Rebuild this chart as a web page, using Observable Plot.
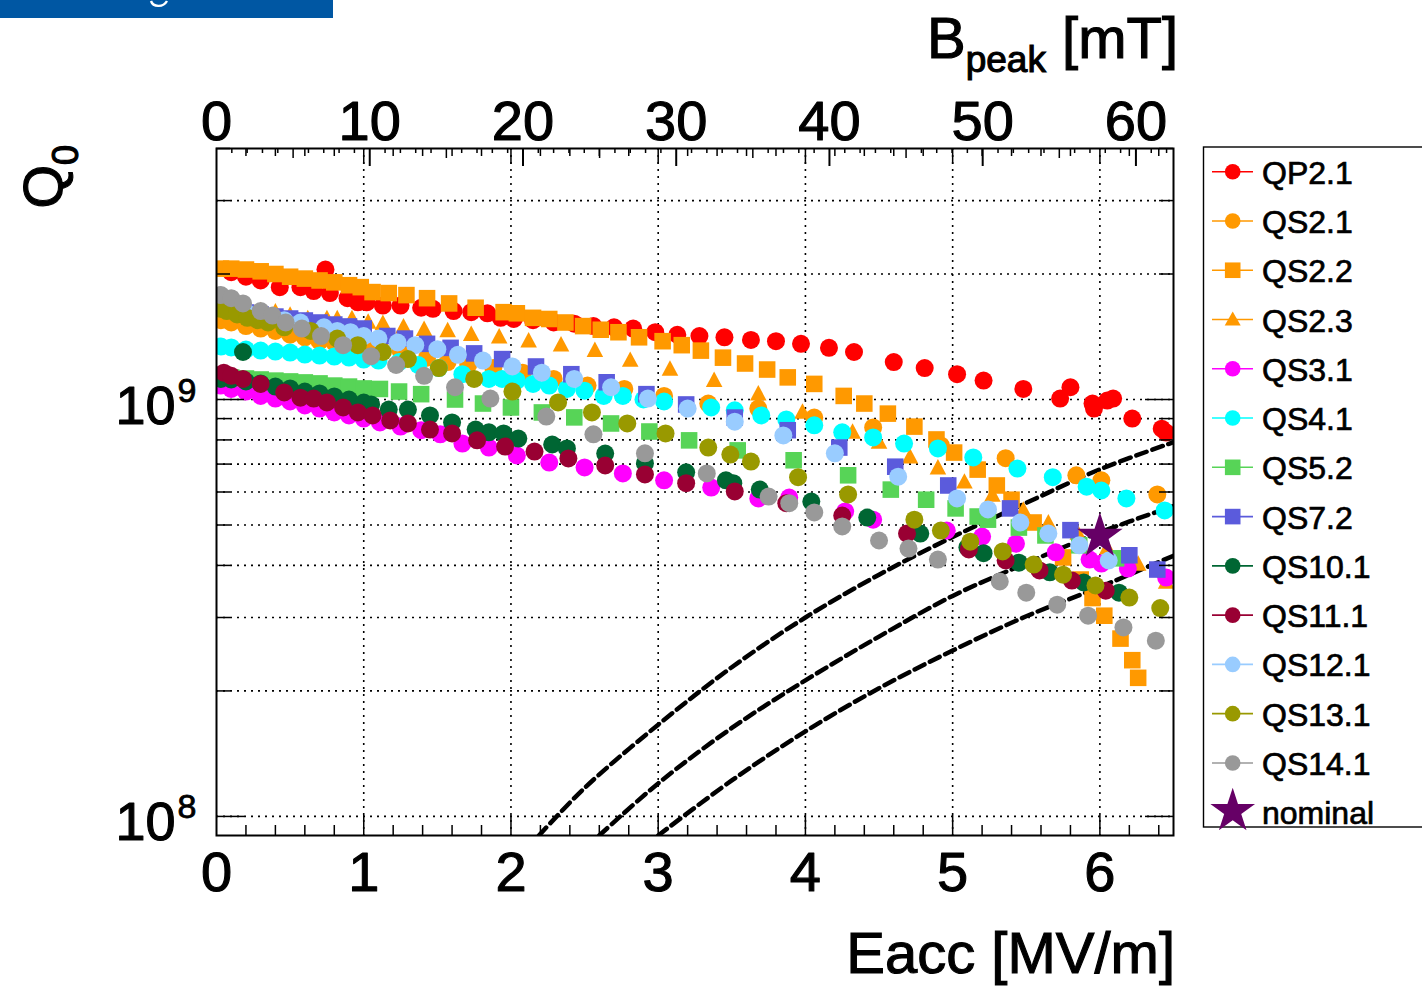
<!DOCTYPE html>
<html>
<head>
<meta charset="utf-8">
<script src="https://cdn.jsdelivr.net/npm/d3@7"></script>
<script src="https://cdn.jsdelivr.net/npm/@observablehq/plot@0.6"></script>
<style>
html,body{margin:0;padding:0;background:#fff;}
#wrap{position:relative;width:1422px;height:986px;overflow:hidden;font-family:"Liberation Sans",Arial,Helvetica,sans-serif;}
#wrap svg{position:absolute;left:0;top:0;}
</style>
</head>
<body>
<div id="wrap"></div>
<script>
// ---------- axis / tick values ----------
const eaccTicks = [0, 1, 2, 3, 4, 5, 6];
const eaccGrid = [1, 2, 3, 4, 5, 6];
const bpeakTicks = [0, 10, 20, 30, 40, 50, 60];
const bpeakPerEacc = 9.608;           // mT per MV/m (top axis vs bottom axis alignment)
const qDecades = [1e8, 1e9];
const qGrid = [1e8, 2e8, 3e8, 4e8, 5e8, 6e8, 7e8, 8e8, 9e8, 1e9, 2e9, 3e9];

// ---------- series: [Eacc (MV/m), Q0] ----------
const qp21 = [[0.10,2.02e9],[0.20,1.97e9],[0.30,1.93e9],[0.43,1.86e9],[0.57,1.86e9],[0.66,1.82e9],[0.74,2.05e9],[0.77,1.80e9],[0.89,1.75e9],[0.96,1.71e9],[1.02,1.71e9],[1.13,1.68e9],[1.25,1.68e9],[1.39,1.66e9],[1.47,1.65e9],[1.61,1.63e9],[1.73,1.62e9],[1.84,1.61e9],[1.93,1.57e9],[2.02,1.56e9],[2.15,1.55e9],[2.29,1.53e9],[2.43,1.52e9],[2.56,1.50e9],[2.70,1.49e9],[2.83,1.48e9],[2.98,1.45e9],[3.13,1.43e9],[3.28,1.42e9],[3.45,1.41e9],[3.63,1.39e9],[3.80,1.38e9],[3.97,1.36e9],[4.16,1.33e9],[4.33,1.30e9],[4.60,1.23e9],[4.81,1.19e9],[5.03,1.15e9],[5.21,1.11e9],[5.48,1.06e9],[5.73,1.005e9],[5.80,1.07e9],[5.95,9.78e8],[5.96,9.51e8],[6.05,9.94e8],[6.09,1.005e9],[6.22,9.0e8],[6.42,8.51e8],[6.45,8.33e8]];
const qs21 = [[0.03,1.55e9],[0.10,1.53e9],[0.20,1.50e9],[0.30,1.48e9],[0.40,1.46e9],[0.50,1.43e9],[0.60,1.41e9],[0.70,1.38e9],[0.80,1.37e9],[0.90,1.36e9],[1.00,1.34e9],[1.11,1.33e9],[1.25,1.31e9],[1.43,1.26e9],[1.57,1.23e9],[1.71,1.21e9],[1.88,1.19e9],[2.08,1.16e9],[2.29,1.12e9],[2.52,1.08e9],[2.77,1.06e9],[3.04,1.02e9],[3.34,9.78e8],[3.68,9.51e8],[4.06,9.05e8],[4.46,8.57e8],[4.92,7.76e8],[5.36,7.23e8],[5.84,6.58e8],[6.01,6.40e8],[6.39,5.92e8]];
const qs22 = [[0.03,2.06e9],[0.10,2.06e9],[0.20,2.05e9],[0.30,2.03e9],[0.40,2.00e9],[0.50,1.97e9],[0.60,1.95e9],[0.70,1.93e9],[0.80,1.91e9],[0.90,1.88e9],[0.98,1.86e9],[1.06,1.81e9],[1.17,1.80e9],[1.29,1.78e9],[1.43,1.75e9],[1.58,1.70e9],[1.76,1.66e9],[1.95,1.62e9],[2.04,1.61e9],[2.15,1.57e9],[2.26,1.56e9],[2.37,1.53e9],[2.49,1.50e9],[2.61,1.47e9],[2.73,1.45e9],[2.87,1.41e9],[3.03,1.38e9],[3.16,1.35e9],[3.29,1.31e9],[3.44,1.26e9],[3.59,1.22e9],[3.74,1.18e9],[3.88,1.13e9],[4.06,1.09e9],[4.26,1.02e9],[4.40,9.78e8],[4.56,9.25e8],[4.74,8.61e8],[4.89,8.02e8],[5.01,7.46e8],[5.17,6.79e8],[5.30,6.22e8],[5.40,5.75e8],[5.55,5.07e8],[5.75,4.18e8],[5.87,3.70e8],[5.95,3.34e8],[6.03,3.03e8],[6.14,2.67e8],[6.22,2.37e8],[6.26,2.15e8]];
const qs23 = [[0.03,1.68e9],[0.10,1.67e9],[0.20,1.65e9],[0.30,1.63e9],[0.40,1.62e9],[0.50,1.59e9],[0.62,1.56e9],[0.75,1.56e9],[0.82,1.56e9],[0.92,1.56e9],[1.03,1.53e9],[1.13,1.52e9],[1.27,1.49e9],[1.41,1.47e9],[1.57,1.46e9],[1.73,1.43e9],[1.92,1.41e9],[2.12,1.38e9],[2.34,1.35e9],[2.57,1.31e9],[2.81,1.24e9],[3.08,1.18e9],[3.38,1.11e9],[3.68,1.03e9],[3.98,9.31e8],[4.32,8.34e8],[4.50,7.89e8],[4.71,7.27e8],[4.90,6.84e8],[5.08,6.33e8],[5.27,5.89e8],[5.48,5.42e8],[5.65,5.05e8],[5.85,4.77e8],[6.05,4.40e8],[6.26,4.02e8],[6.45,3.64e8]];
const qs31 = [[0.03,1.08e9],[0.10,1.06e9],[0.20,1.045e9],[0.30,1.02e9],[0.40,1.005e9],[0.50,9.89e8],[0.60,9.68e8],[0.70,9.51e8],[0.80,9.31e8],[0.90,9.16e8],[1.00,9.0e8],[1.11,8.81e8],[1.25,8.61e8],[1.39,8.44e8],[1.52,8.25e8],[1.67,7.84e8],[1.85,7.67e8],[2.04,7.34e8],[2.26,7.06e8],[2.50,6.87e8],[2.76,6.65e8],[3.04,6.40e8],[3.36,6.15e8],[3.68,5.79e8],[3.89,5.82e8],[4.27,5.39e8],[4.46,5.15e8],[4.96,4.85e8],[5.20,4.69e8],[5.43,4.51e8],[5.70,4.30e8],[5.93,4.13e8],[6.01,4.04e8],[6.19,3.93e8],[6.45,3.74e8]];
const qs41 = [[0.03,1.34e9],[0.10,1.333e9],[0.20,1.318e9],[0.30,1.31e9],[0.40,1.303e9],[0.50,1.296e9],[0.60,1.282e9],[0.70,1.275e9],[0.80,1.268e9],[0.90,1.261e9],[1.00,1.247e9],[1.10,1.24e9],[1.24,1.23e9],[1.37,1.21e9],[1.51,1.19e9],[1.67,1.15e9],[1.85,1.12e9],[1.94,1.12e9],[2.04,1.11e9],[2.15,1.09e9],[2.26,1.08e9],[2.38,1.06e9],[2.50,1.05e9],[2.63,1.02e9],[2.76,1.02e9],[2.90,1.0e9],[3.04,9.89e8],[3.36,9.57e8],[3.52,9.42e8],[3.70,9.16e8],[3.87,8.96e8],[4.06,8.67e8],[4.25,8.34e8],[4.46,8.11e8],[4.67,7.84e8],[4.90,7.63e8],[5.14,7.26e8],[5.44,6.83e8],[5.68,6.51e8],[5.91,6.18e8],[6.01,6.05e8],[6.18,5.79e8],[6.44,5.42e8]];
const qs52 = [[0.03,1.135e9],[0.10,1.129e9],[0.20,1.123e9],[0.30,1.117e9],[0.40,1.11e9],[0.50,1.105e9],[0.60,1.099e9],[0.70,1.093e9],[0.80,1.08e9],[0.90,1.074e9],[1.00,1.063e9],[1.11,1.06e9],[1.24,1.045e9],[1.39,1.03e9],[1.62,1.0e9],[1.81,9.78e8],[2.00,9.57e8],[2.21,9.31e8],[2.43,9.06e8],[2.68,8.76e8],[2.94,8.38e8],[3.21,7.98e8],[3.54,7.55e8],[3.92,7.15e8],[4.29,6.58e8],[4.58,6.08e8],[4.82,5.75e8],[5.02,5.48e8],[5.17,5.24e8],[5.24,5.15e8],[5.45,4.93e8],[5.63,4.72e8],[5.86,4.47e8],[6.11,4.16e8]];
const qs72 = [[0.03,1.653e9],[0.10,1.635e9],[0.20,1.617e9],[0.30,1.599e9],[0.40,1.581e9],[0.50,1.564e9],[0.60,1.547e9],[0.70,1.53e9],[0.80,1.513e9],[0.90,1.497e9],[1.00,1.48e9],[1.16,1.42e9],[1.28,1.40e9],[1.43,1.36e9],[1.59,1.33e9],[1.75,1.29e9],[1.94,1.25e9],[2.17,1.20e9],[2.41,1.15e9],[2.65,1.10e9],[2.92,1.03e9],[3.19,9.73e8],[3.52,9.05e8],[3.88,8.44e8],[4.23,7.67e8],[4.61,6.90e8],[4.97,6.22e8],[5.39,5.48e8],[5.80,4.86e8],[6.20,4.23e8],[6.39,3.91e8]];
const qs101 = [[0.03,1.12e9],[0.10,1.117e9],[0.18,1.30e9],[0.20,1.105e9],[0.30,1.093e9],[0.40,1.074e9],[0.50,1.063e9],[0.60,1.045e9],[0.70,1.034e9],[0.80,1.017e9],[0.90,1.0e9],[1.00,9.83e8],[1.05,9.73e8],[1.17,9.46e8],[1.30,9.46e8],[1.45,9.16e8],[1.60,8.81e8],[1.76,8.47e8],[1.85,8.34e8],[1.95,8.29e8],[2.05,8.06e8],[2.28,7.80e8],[2.38,7.63e8],[2.64,7.42e8],[2.91,7.03e8],[3.19,6.69e8],[3.46,6.40e8],[3.51,6.30e8],[3.69,6.08e8],[4.04,5.69e8],[4.42,5.21e8],[4.78,4.77e8],[5.10,4.42e8],[5.21,4.28e8],[5.45,4.06e8],[5.66,3.85e8],[5.89,3.64e8],[6.13,3.44e8]];
const qs111 = [[0.05,1.16e9],[0.10,1.14e9],[0.18,1.12e9],[0.30,1.09e9],[0.46,1.04e9],[0.57,1.01e9],[0.66,1.005e9],[0.75,9.84e8],[0.86,9.57e8],[0.96,9.31e8],[1.06,9.16e8],[1.18,8.91e8],[1.30,8.76e8],[1.45,8.47e8],[1.60,8.29e8],[1.77,7.98e8],[1.96,7.71e8],[2.16,7.50e8],[2.39,7.22e8],[2.64,6.95e8],[2.91,6.61e8],[3.19,6.30e8],[3.52,6.02e8],[3.87,5.64e8],[4.25,5.27e8],[4.69,4.77e8],[5.11,4.37e8],[5.36,4.11e8],[5.59,3.89e8],[5.81,3.68e8],[6.04,3.48e8]];
const qs121 = [[0.03,1.68e9],[0.10,1.65e9],[0.20,1.62e9],[0.33,1.57e9],[0.46,1.55e9],[0.57,1.53e9],[0.73,1.49e9],[0.82,1.46e9],[0.91,1.45e9],[1.00,1.42e9],[1.10,1.40e9],[1.23,1.37e9],[1.35,1.35e9],[1.50,1.32e9],[1.64,1.28e9],[1.81,1.24e9],[2.01,1.20e9],[2.21,1.16e9],[2.43,1.12e9],[2.68,1.07e9],[2.93,1.005e9],[3.20,9.51e8],[3.52,8.85e8],[3.85,8.20e8],[4.20,7.43e8],[4.63,6.53e8],[5.03,5.79e8],[5.24,5.45e8],[5.46,5.07e8],[5.65,4.77e8],[5.86,4.47e8],[6.06,4.11e8]];
const qs131 = [[0.03,1.65e9],[0.07,1.63e9],[0.14,1.60e9],[0.21,1.57e9],[0.28,1.55e9],[0.35,1.53e9],[0.46,1.49e9],[0.64,1.46e9],[0.82,1.40e9],[0.96,1.35e9],[1.13,1.30e9],[1.30,1.25e9],[1.51,1.19e9],[1.75,1.12e9],[2.01,1.045e9],[2.32,9.84e8],[2.55,9.31e8],[2.79,8.76e8],[3.05,8.29e8],[3.34,7.67e8],[3.49,7.38e8],[3.63,7.10e8],[3.95,6.51e8],[4.29,5.92e8],[4.74,5.15e8],[4.92,4.85e8],[5.12,4.56e8],[5.34,4.32e8],[5.55,4.02e8],[5.75,3.80e8],[5.97,3.58e8],[6.20,3.35e8],[6.41,3.16e8]];
const qs141 = [[0.03,1.78e9],[0.10,1.75e9],[0.18,1.70e9],[0.30,1.63e9],[0.38,1.59e9],[0.47,1.53e9],[0.58,1.48e9],[0.71,1.42e9],[0.86,1.35e9],[1.05,1.27e9],[1.22,1.21e9],[1.41,1.14e9],[1.62,1.07e9],[1.86,1.005e9],[2.24,9.1e8],[2.56,8.25e8],[2.91,7.43e8],[3.33,6.65e8],[3.75,5.85e8],[3.89,5.64e8],[4.06,5.36e8],[4.25,4.96e8],[4.50,4.59e8],[4.70,4.39e8],[4.90,4.13e8],[5.32,3.66e8],[5.50,3.44e8],[5.71,3.22e8],[5.92,3.03e8],[6.16,2.84e8],[6.38,2.64e8]];
const nominal = [[6.0,4.7e8]];

// ---------- dashed limit curves ----------
const limitA = [[2.19,9.0e7],[2.5,1.17e8],[3.0,1.66e8],[3.5,2.28e8],[4.0,3.0e8],[4.5,3.8e8],[5.0,4.68e8],[5.5,5.65e8],[6.0,6.8e8],[6.5,7.9e8]];
const limitB = [[2.60,9.0e7],[3.0,1.2e8],[3.5,1.63e8],[4.0,2.12e8],[4.5,2.7e8],[5.0,3.38e8],[5.5,4.05e8],[6.0,4.8e8],[6.5,5.55e8]];
const limitC = [[3.0,9.0e7],[3.5,1.22e8],[4.0,1.6e8],[4.5,2.03e8],[5.0,2.5e8],[5.5,3.02e8],[6.0,3.55e8],[6.5,4.22e8]];

// ---------- series styling ----------
const seriesNames = ["QP2.1","QS2.1","QS2.2","QS2.3","QS3.1","QS4.1","QS5.2","QS7.2","QS10.1","QS11.1","QS12.1","QS13.1","QS14.1"];
const seriesData = [qp21, qs21, qs22, qs23, qs31, qs41, qs52, qs72, qs101, qs111, qs121, qs131, qs141];
const seriesColors = ["#ff0000","#ff9900","#ff9900","#ff9900","#ff00ff","#00ffff","#57d457","#5b5bdc","#006633","#990033","#99ccff","#999900","#999999"];
const seriesShapes = ["circle","circle","square","triangle","circle","circle","square","square","circle","circle","circle","circle","circle"];
const nominalColor = "#660066";

const squareSym = {draw(ctx, size){const r=Math.sqrt(size/Math.PI), h=0.92*r; ctx.moveTo(-h,-h); ctx.lineTo(h,-h); ctx.lineTo(h,h); ctx.lineTo(-h,h); ctx.closePath();}};
const triangleSym = {draw(ctx, size){const r=Math.sqrt(size/Math.PI); ctx.moveTo(0,-1.02*r); ctx.lineTo(0.92*r,0.70*r); ctx.lineTo(-0.92*r,0.70*r); ctx.closePath();}};
const symFor = s => s === "square" ? squareSym : s === "triangle" ? triangleSym : "circle";

// ---------- layout ----------
const W = 1422, H = 986, ML = 216, MR = 249, MT = 148, MB = 151;
const FW = W - ML - MR, FH = H - MT - MB;

const toRows = (pts, id) => pts.map(([e, q]) => ({e, q, id}));
const curveRows = [...toRows(limitA, "A"), ...toRows(limitB, "B"), ...toRows(limitC, "C")];

const minorE = d3.range(1, 33).map(i => +(i * 0.2).toFixed(2)).filter(v => Math.abs(v - Math.round(v)) > 1e-6);
const bMinor = d3.range(1, 63).filter(b => b % 5 !== 0);
const bMid = d3.range(5, 60, 10);
const bMajor = d3.range(10, 61, 10);
const qMajor = [1e8, 1e9];
const qMinor = qGrid.filter(q => !qMajor.includes(q)).concat([4e9]);

const tick = {stroke: "#000", strokeWidth: 1.5};
const grid = {stroke: "#000", strokeWidth: 1.6, strokeDasharray: "2 5"};
const bold = {fill: "#000", stroke: "#000", strokeWidth: 1.1};

const marks = [
  Plot.ruleX(eaccGrid, {x: d => d, ...grid}),
  Plot.ruleY(qGrid, {y: d => d, ...grid}),
  Plot.line(curveRows, {x: "e", y: "q", z: "id", stroke: "#000", strokeWidth: 4.5, strokeDasharray: "11 6", curve: "catmull-rom", clip: true}),
  ...seriesData.map((pts, i) => Plot.dot(toRows(pts, seriesNames[i]), {x: "e", y: "q", fill: seriesColors[i], r: 9, symbol: symFor(seriesShapes[i]), clip: true})),
  Plot.dot(toRows(nominal, "nominal"), {x: "e", y: "q", symbol: "star", r: 14.35, fill: nominalColor}),
  Plot.frame({stroke: "#000", strokeWidth: 2}),
  // bottom ticks (inward)
  Plot.ruleX(minorE, {x: d => d, insetTop: FH - 10, ...tick}),
  Plot.ruleX(eaccGrid, {x: d => d, insetTop: FH - 20, ...tick}),
  // top ticks: mirrored Eacc ticks + Bpeak axis ticks
  Plot.ruleX(minorE, {x: d => d, insetBottom: FH - 8, ...tick}),
  Plot.ruleX(eaccGrid, {x: d => d, insetBottom: FH - 16, ...tick}),
  Plot.ruleX(bMinor, {x: b => b / bpeakPerEacc, insetBottom: FH - 5, ...tick}),
  Plot.ruleX(bMid, {x: b => b / bpeakPerEacc, insetBottom: FH - 10, ...tick}),
  Plot.ruleX(bMajor, {x: b => b / bpeakPerEacc, insetBottom: FH - 18, stroke: "#000", strokeWidth: 2}),
  // left / right ticks
  Plot.ruleY(qMinor, {y: d => d, insetRight: FW - 14, ...tick}),
  Plot.ruleY(qMajor, {y: d => d, insetRight: FW - 28, ...tick}),
  Plot.ruleY(qMinor, {y: d => d, insetLeft: FW - 14, ...tick}),
  Plot.ruleY(qMajor, {y: d => d, insetLeft: FW - 28, ...tick}),
  // tick labels
  Plot.text(eaccTicks, {x: d => d, frameAnchor: "bottom", lineAnchor: "top", dy: 16, text: d => String(d), fontSize: 56, ...bold}),
  Plot.text(bpeakTicks, {x: b => b / bpeakPerEacc, frameAnchor: "top", lineAnchor: "bottom", dy: -9, text: b => String(b), fontSize: 56, ...bold}),
  Plot.text(qDecades, {y: d => d, frameAnchor: "left", textAnchor: "end", lineAnchor: "bottom", dx: -41, dy: 24, text: () => "10", fontSize: 54, ...bold}),
  Plot.text(qDecades, {y: d => d, frameAnchor: "left", textAnchor: "start", lineAnchor: "bottom", dx: -39, dy: 2, text: d => String(Math.round(Math.log10(d))), fontSize: 34, fill: "#000", stroke: "#000", strokeWidth: 0.8})
];

const chart = Plot.plot({
  width: W, height: H,
  marginLeft: ML, marginRight: MR, marginTop: MT, marginBottom: MB,
  x: {domain: [0, 6.5], axis: null},
  y: {type: "log", domain: [9e7, 4e9], axis: null},
  style: {fontFamily: '"Liberation Sans", Arial, Helvetica, sans-serif', background: "#fff", color: "#000"},
  marks
});
const wrap = document.getElementById("wrap");
wrap.appendChild(chart);

// ---------- overlay: banner, axis titles + legend ----------
const ov = d3.select(wrap).append("svg").attr("width", W).attr("height", H)
  .style("font-family", '"Liberation Sans", Arial, Helvetica, sans-serif').style("white-space", "pre");

// cropped logo bar at the top-left corner
ov.append("rect").attr("x", 0).attr("y", 0).attr("width", 333).attr("height", 18).attr("fill", "#0057a3");
ov.append("path").attr("d", "M151,1 C153,7 163,8 167,1").attr("fill", "none").attr("stroke", "#fff").attr("stroke-width", 2.4);

ov.append("text").attr("x", 1175).attr("y", 973).attr("text-anchor", "end").attr("font-size", 58)
  .attr("stroke", "#000").attr("stroke-width", 1.1).text("Eacc [MV/m]");
const bt = ov.append("text").attr("x", 1178).attr("y", 58).attr("text-anchor", "end").attr("font-size", 58)
  .attr("stroke", "#000").attr("stroke-width", 1.1);
bt.append("tspan").text("B");
bt.append("tspan").attr("font-size", 37).attr("dy", 14).text("peak");
bt.append("tspan").attr("dy", -14).text(" [mT]");
const qt = ov.append("text").attr("transform", "translate(62,145) rotate(-90)").attr("text-anchor", "end").attr("font-size", 56)
  .attr("stroke", "#000").attr("stroke-width", 1.1);
qt.append("tspan").text("Q");
qt.append("tspan").attr("font-size", 36).attr("dy", 16).text("0");

// legend
const lg = ov.append("g");
lg.append("rect").attr("x", 1203.5).attr("y", 147).attr("width", 300).attr("height", 680)
  .attr("fill", "#fff").attr("stroke", "#000").attr("stroke-width", 1.4);
const legendNames = [...seriesNames, "nominal"];
legendNames.forEach((name, i) => {
  const cy = 171.7 + i * 49.27, cx = 1232.7;
  const g = lg.append("g");
  if (i < seriesNames.length) {
    const col = seriesColors[i], shp = seriesShapes[i];
    g.append("line").attr("x1", 1212).attr("x2", 1253).attr("y1", cy).attr("y2", cy).attr("stroke", col).attr("stroke-width", 1.6);
    if (shp === "circle") g.append("circle").attr("cx", cx).attr("cy", cy).attr("r", 7.8).attr("fill", col);
    else if (shp === "square") g.append("rect").attr("x", cx - 7.8).attr("y", cy - 7.8).attr("width", 15.6).attr("height", 15.6).attr("fill", col);
    else g.append("path").attr("d", `M${cx},${cy - 8}L${cx + 8},${cy + 6}L${cx - 8},${cy + 6}Z`).attr("fill", col);
  } else {
    g.append("path").attr("transform", `translate(${cx},${cy - 1})`).attr("d", d3.symbol(d3.symbolStar, 620)()).attr("fill", nominalColor);
  }
  g.append("text").attr("x", 1262).attr("y", cy + 12).attr("font-size", 32)
    .attr("stroke", "#000").attr("stroke-width", 0.7).text(name);
});
</script>
</body>
</html>
